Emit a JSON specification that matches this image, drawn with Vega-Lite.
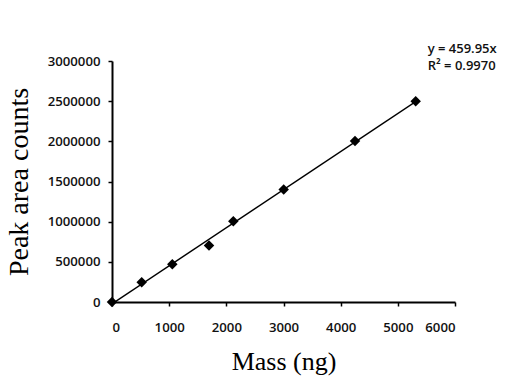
{
  "$schema": "https://vega.github.io/schema/vega-lite/v6.json",
  "width": 343,
  "height": 241,
  "autosize": {"type": "none"},
  "padding": {"left": 112, "top": 61, "right": 56, "bottom": 77},
  "background": "white",
  "config": {
    "view": {"stroke": null},
    "axis": {
      "grid": false,
      "domainColor": "black",
      "domainWidth": 2,
      "tickColor": "black",
      "tickWidth": 1.5,
      "tickSize": 4,
      "labelFont": "Open Sans",
      "labelFontWeight": 600,
      "labelFontSize": 13.2,
      "labelColor": "#111",
      "titleFont": "Liberation Serif",
      "titleFontWeight": "normal",
      "titleColor": "black"
    }
  },
  "data": {
    "values": [
      {"mass": 0, "area": 0},
      {"mass": 519, "area": 245000},
      {"mass": 1055, "area": 469000},
      {"mass": 1697, "area": 702000},
      {"mass": 2122, "area": 1004000},
      {"mass": 3003, "area": 1399000},
      {"mass": 4251, "area": 2004000},
      {"mass": 5312, "area": 2500000}
    ]
  },
  "layer": [
    {
      "transform": [
        {"regression": "area", "on": "mass", "method": "linear", "extent": [0, 5312]}
      ],
      "mark": {"type": "line", "color": "black", "strokeWidth": 1.3},
      "encoding": {
        "x": {"field": "mass", "type": "quantitative"},
        "y": {"field": "area", "type": "quantitative"}
      }
    },
    {
      "mark": {"type": "point", "shape": "diamond", "filled": true, "color": "black", "size": 110, "opacity": 1},
      "encoding": {
        "x": {
          "field": "mass",
          "type": "quantitative",
          "scale": {"domain": [0, 6000], "nice": false},
          "axis": {
            "values": [0, 1000, 2000, 3000, 4000, 5000, 6000],
            "format": "d",
            "labelPadding": 15,
            "title": "Mass (ng)",
            "titleFontSize": 26,
            "titlePadding": 15
          }
        },
        "y": {
          "field": "area",
          "type": "quantitative",
          "scale": {"domain": [0, 3000000], "nice": false},
          "axis": {
            "values": [0, 500000, 1000000, 1500000, 2000000, 2500000, 3000000],
            "format": "d",
            "labelPadding": 8,
            "title": "Peak area counts",
            "titleFontSize": 28,
            "titlePadding": 14
          }
        }
      }
    },
    {
      "data": {"values": [{}]},
      "mark": {"type": "text", "align": "left", "baseline": "middle", "font": "Open Sans", "fontWeight": 600, "fontSize": 13, "color": "#111", "clip": false},
      "encoding": {
        "x": {"datum": 5522, "type": "quantitative"},
        "y": {"datum": 3146000, "type": "quantitative"},
        "text": {"value": "y = 459.95x"}
      }
    },
    {
      "data": {"values": [{}]},
      "mark": {"type": "text", "align": "left", "baseline": "middle", "font": "Open Sans", "fontWeight": 600, "fontSize": 13, "color": "#111", "clip": false},
      "encoding": {
        "x": {"datum": 5522, "type": "quantitative"},
        "y": {"datum": 2934000, "type": "quantitative"},
        "text": {"value": "R² = 0.9970"}
      }
    }
  ]
}
